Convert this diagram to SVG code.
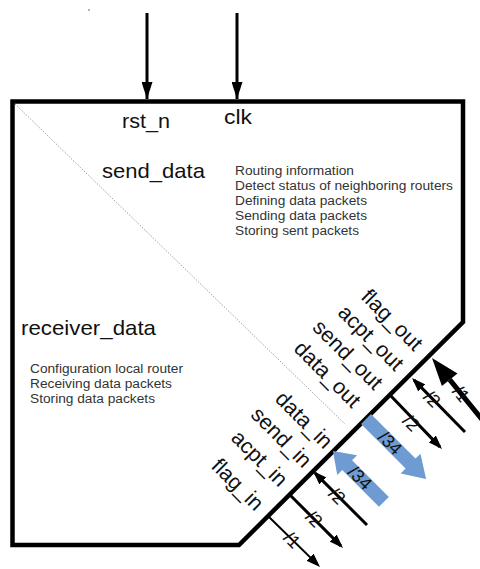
<svg xmlns="http://www.w3.org/2000/svg" width="480" height="569" viewBox="0 0 480 569">
<defs>
<style>
.box{fill:none;stroke:#000;stroke-width:4.5;stroke-linejoin:miter}
.div{fill:none;stroke:#888;stroke-width:0.8;stroke-dasharray:1.5 1.5}
.big{font-family:"Liberation Sans",Arial,sans-serif;font-size:21px;fill:#111}
.sm{font-family:"Liberation Sans",Arial,sans-serif;font-size:12.5px;fill:#333}
.port{font-family:"Liberation Sans",Arial,sans-serif;font-size:21.5px;fill:#111;text-anchor:end}
.w{font-family:"Liberation Sans",Arial,sans-serif;font-size:18px;fill:#111;text-anchor:middle;dominant-baseline:central}
.ar{stroke:#000;stroke-width:3;fill:none}
.ar2{stroke:#000;stroke-width:2;fill:none}
.blue{fill:#6f9bd3}
</style>
<marker id="ah" viewBox="0 0 14 10" refX="11" refY="5" markerWidth="14" markerHeight="10" markerUnits="userSpaceOnUse" orient="auto"><path d="M0,0 L14,5 L0,10 Z" fill="#000"/></marker>
<marker id="ahTop" viewBox="0 0 17 11" refX="17" refY="5.5" markerWidth="17" markerHeight="11" markerUnits="userSpaceOnUse" orient="auto"><path d="M0,0 L17,5.5 L0,11 Z" fill="#000"/></marker>
</defs>
<circle cx="89" cy="10" r="0.8" fill="#555"/>
<g id="router">
<path class="box" d="M12.5,101.5 H463 V322 L239,545 H12.5 Z"/>
<line class="div" x1="15" y1="104" x2="345" y2="424"/>
<text class="big" x="122" y="128" textLength="48" lengthAdjust="spacingAndGlyphs">rst_n</text>
<text class="big" x="224" y="124" textLength="28" lengthAdjust="spacingAndGlyphs">clk</text>
</g>
<g id="send_data">
<text class="big" x="102" y="178" textLength="103" lengthAdjust="spacingAndGlyphs">send_data</text>
<text class="sm" x="235" y="175" textLength="119" lengthAdjust="spacingAndGlyphs">Routing information</text>
<text class="sm" x="235" y="189.5" textLength="218" lengthAdjust="spacingAndGlyphs">Detect status of neighboring routers</text>
<text class="sm" x="235" y="204.5" textLength="132" lengthAdjust="spacingAndGlyphs">Defining data packets</text>
<text class="sm" x="235" y="219.5" textLength="132" lengthAdjust="spacingAndGlyphs">Sending data packets</text>
<text class="sm" x="235" y="234.5" textLength="124" lengthAdjust="spacingAndGlyphs">Storing sent packets</text>
</g>
<g id="receiver_data">
<text class="big" x="21" y="335" textLength="135" lengthAdjust="spacingAndGlyphs">receiver_data</text>
<text class="sm" x="30" y="373" textLength="153" lengthAdjust="spacingAndGlyphs">Configuration local router</text>
<text class="sm" x="30" y="388" textLength="142" lengthAdjust="spacingAndGlyphs">Receiving data packets</text>
<text class="sm" x="30" y="403" textLength="125" lengthAdjust="spacingAndGlyphs">Storing data packets</text>
</g>
<g id="ports">
<text class="port" transform="translate(414,352) rotate(45)">flag_out</text>
<text class="port" transform="translate(395,372) rotate(45)">acpt_out</text>
<text class="port" transform="translate(374,391) rotate(45)">send_out</text>
<text class="port" transform="translate(352,409) rotate(45)">data_out</text>
<text class="port" transform="translate(324,450) rotate(45)">data_in</text>
<text class="port" transform="translate(303,469) rotate(45)">send_in</text>
<text class="port" transform="translate(279,488) rotate(45)">acpt_in</text>
<text class="port" transform="translate(255,512) rotate(45)">flag_in</text>
</g>
<g id="connectors">
<line class="ar" x1="147" y1="13" x2="147" y2="99" marker-end="url(#ahTop)"/>
<line class="ar" x1="237" y1="13" x2="237" y2="99" marker-end="url(#ahTop)"/>
<line x1="449.7" y1="379.7" x2="487" y2="425.6" stroke="#000" stroke-width="5"/>
<polygon points="432,358 457.5,373.4 441.9,386" fill="#000"/>
<text class="w" transform="translate(461,394) rotate(51)">/1</text>
<line class="ar" x1="465" y1="432" x2="414.1" y2="380.1" marker-end="url(#ah)"/>
<text class="w" transform="translate(432,399) rotate(45)">/2</text>
<line class="ar" x1="390" y1="395" x2="439.9" y2="446.9" marker-end="url(#ah)"/>
<text class="w" transform="translate(411,423) rotate(45)">/2</text>
<g transform="translate(366,419) rotate(45)"><polygon class="blue" points="0,-7 63,-7 63,-14 85,0 63,14 63,7 0,7"/><text class="w" x="34" y="0">/34</text></g>
<g transform="translate(333,451) rotate(45)"><polygon class="blue" points="0,0 20,-14 20,-7 72,-7 72,7 20,7 20,14"/><text class="w" x="38" y="0">/34</text></g>
<line class="ar" x1="367" y1="525" x2="315.1" y2="473.1" marker-end="url(#ah)"/>
<text class="w" transform="translate(337,496) rotate(45)">/2</text>
<line class="ar" x1="290" y1="495" x2="340.9" y2="545.9" marker-end="url(#ah)"/>
<text class="w" transform="translate(314,519) rotate(45)">/2</text>
<line class="ar2" x1="268" y1="516" x2="317.9" y2="564.9" marker-end="url(#ah)"/>
<text class="w" transform="translate(292,540) rotate(45)">/1</text>
</g>
</svg>
